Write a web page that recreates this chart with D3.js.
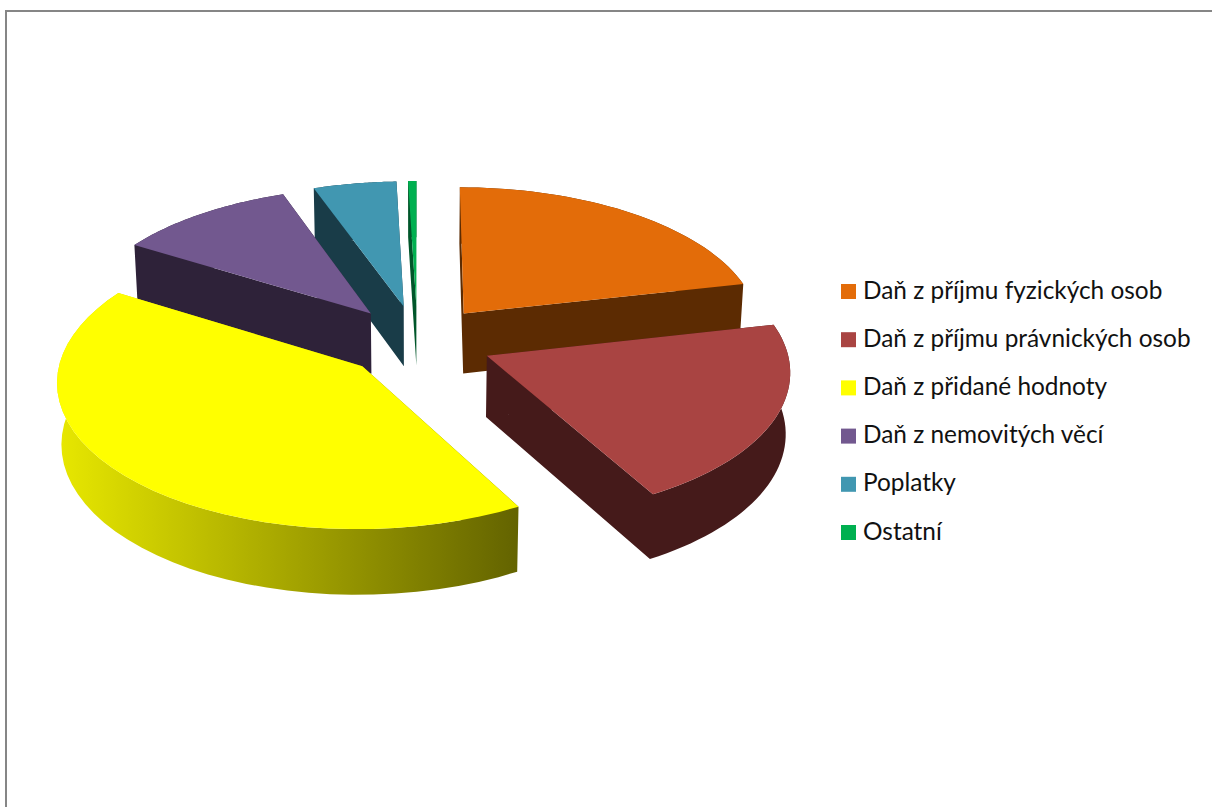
<!DOCTYPE html>
<html>
<head>
<meta charset="utf-8">
<script src="https://cdn.jsdelivr.net/npm/d3@7"></script>
<style>
  html, body { margin: 0; padding: 0; background: #fff; overflow: hidden; }
  svg { display: block; }
  .legend text { font-family: Lato, "Open Sans", sans-serif; font-size: 24.4px; fill: #111; }
</style>
</head>
<body>
<svg width="1212" height="807"></svg>
<script>
const categories = [
  'Daň z příjmu fyzických osob',
  'Daň z příjmu právnických osob',
  'Daň z přidané hodnoty',
  'Daň z nemovitých věcí',
  'Poplatky',
  'Ostatní'
];
const values = [21.5, 20.4, 41.85, 10.75, 5.0, 0.5];
const topColors = ['#e36c09', '#a94442', '#ffff00', '#72588f', '#4197b1', '#00b050'];
const sideColors = ['#5c2b02', '#451a1a', 'url(#yellowSide)', '#2e2239', '#193c48', '#00562a'];
// painter's order, back slices first
const drawOrder = [0, 5, 4, 3, 1, 2];

const svg = d3.select('svg');
const width = +svg.attr('width');
const height = +svg.attr('height');

// window frame, only top and left edges are in the crop
svg.append('path')
  .attr('d', `M6,${height}V11H${width}`)
  .attr('fill', 'none')
  .attr('stroke', '#868686')
  .attr('stroke-width', 2);

const defs = svg.append('defs');
const grad = defs.append('linearGradient').attr('id', 'yellowSide');
grad.append('stop').attr('offset', '0%').attr('stop-color', '#e8e800');
grad.append('stop').attr('offset', '100%').attr('stop-color', '#636300');

const center = { x: 417.5, y: 341 };
const radius = 298.5;
const tilt = 0.478;
const thick = 61.5;
const explode = 0.252;
const persp = 0.093;
const shrink = 0.012;

const xScale = d3.scaleLinear().domain([-1, 1]).range([center.x - radius, center.x + radius]);
const yScale = d3.scaleLinear().domain([-1, 1]).range([center.y - radius * tilt, center.y + radius * tilt]);

// u: right, v: toward viewer (pie units), z: 0 top face, 1 bottom face
const project = (u, v, z) => {
  const s = 1 / (1 - persp * v + shrink * z);
  return [
    center.x + (xScale(u) - center.x) * s,
    center.y + (yScale(v) - center.y + z * thick) * s
  ];
};

const arcs = d3.pie().sort(null).value(d => d)(values);
const line = d3.line();

// same winding for every sub-path, else the overlaps cancel out under nonzero fill
const closed = pts => line(d3.polygonArea(pts) < 0 ? pts.slice().reverse() : pts) + 'Z';

const chart = svg.append('g');

drawOrder.forEach(i => {
  const a = arcs[i];
  const mid = (a.startAngle + a.endAngle) / 2;
  const ox = explode * Math.sin(mid);
  const oy = -explode * Math.cos(mid);
  const rim = d3.range(0, 41).map(k => {
    const t = a.startAngle + (a.endAngle - a.startAngle) * k / 40;
    return [ox + Math.sin(t), oy - Math.cos(t)];
  });
  const at = z => rim.map(p => project(p[0], p[1], z));
  const apex = z => project(ox, oy, z);
  const g = chart.append('g').attr('class', 'slice');

  // walls and outer rim in one path so no seam shows between them
  const wall = p => closed([apex(0), project(p[0], p[1], 0), project(p[0], p[1], 1), apex(1)]);
  g.append('path')
    .attr('d', wall(rim[0]) + wall(rim[rim.length - 1]) + closed(at(0).concat(at(1).reverse())))
    .attr('fill', sideColors[i]);
  // top face
  g.append('path')
    .attr('d', line([apex(0)].concat(at(0))) + 'Z')
    .attr('fill', topColors[i]);
});

// legend
const legendY = d3.scalePoint().domain(categories).range([291.5, 532.5]);
const legend = svg.append('g').attr('class', 'legend');
const rows = legend.selectAll('g').data(categories).join('g')
  .attr('transform', d => `translate(841, ${legendY(d)})`);
rows.append('rect')
  .attr('y', -7.5)
  .attr('width', 15)
  .attr('height', 15)
  .attr('fill', (d, i) => topColors[i]);
rows.append('text')
  .attr('x', 22)
  .attr('y', 7)
  .text(d => d);
</script>
</body>
</html>
